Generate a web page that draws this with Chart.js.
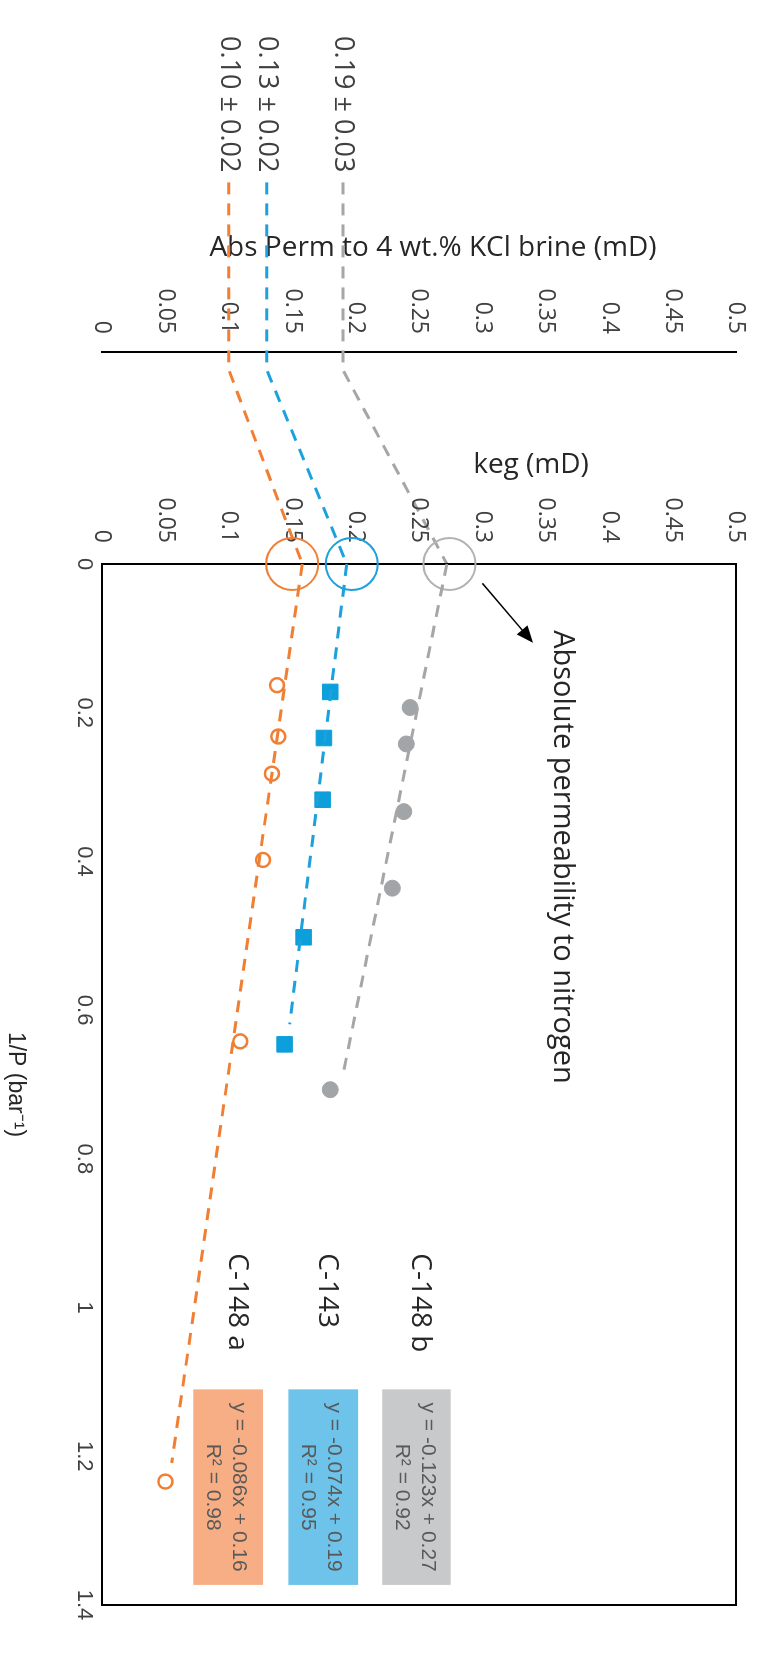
<!DOCTYPE html>
<html>
<head>
<meta charset="utf-8">
<title>keg vs 1/P</title>
<script src="https://cdn.jsdelivr.net/npm/chart.js@4.4.1/dist/chart.umd.min.js"></script>
<style>
  html, body { margin: 0; padding: 0; background: #fff; overflow: hidden; }
  /* the figure is laid out landscape and turned a quarter clockwise */
  #page {
    position: absolute; left: 0; top: 0;
    width: 1656px; height: 772px;
    transform-origin: 0 0;
    transform: translate(772px, 0) rotate(90deg);
  }
  #page canvas { position: absolute; left: 0; top: 0; }
</style>
</head>
<body>
<div id="page">
  <canvas id="brineChart" width="1656" height="772"></canvas>
  <canvas id="kegChart" width="1656" height="772"></canvas>
</div>
<script>
/* globals Chart:false */
(() => {
  'use strict'

  // samples, order: orange / blue / gray
  const samples = ['C-148 a', 'C-143', 'C-148 b']
  const colors = ['#f07f34', '#1ca1dc', '#a6a6a6']
  const markerColors = ['#f07f34', '#0d9fdc', '#a2a5a8']
  const boxColors = ['#f8ae85', '#6dc3e9', '#c8c9cb']

  // keg (mD) against 1/P (bar-1)
  const invP148a = [0.163, 0.232, 0.282, 0.398, 0.642, 1.234]
  const keg148a = [0.138, 0.139, 0.134, 0.127, 0.109, 0.050]
  const invP143 = [0.172, 0.234, 0.317, 0.502, 0.646]
  const keg143 = [0.180, 0.175, 0.174, 0.159, 0.144]
  const invP148b = [0.193, 0.242, 0.333, 0.436, 0.707]
  const keg148b = [0.243, 0.240, 0.238, 0.229, 0.180]

  // fitted lines as drawn (start, end)
  const fitInvP = [[0, 1.209], [0, 0.619], [0, 0.687]]
  const fitKeg = [[0.158, 0.055], [0.193, 0.148], [0.272, 0.190]]
  const equations = ['y = -0.086x + 0.16', 'y = -0.074x + 0.19', 'y = -0.123x + 0.27']
  const rSquared = ['R² = 0.98', 'R² = 0.95', 'R² = 0.92']

  // absolute permeability to nitrogen, circled at 1/P = 0
  const absN2 = [0.150, 0.197, 0.274]

  // absolute permeability to 4 wt.% KCl brine
  const absBrine = [0.10, 0.13, 0.19]
  const absBrineText = ['0.10 ± 0.02', '0.13 ± 0.02', '0.19 ± 0.03']

  // tick labels
  const kegTicks = ['0', '0.05', '0.1', '0.15', '0.2', '0.25', '0.3', '0.35', '0.4', '0.45', '0.5']
  const invPTicks = ['0', '0.2', '0.4', '0.6', '0.8', '1', '1.2', '1.4']

  // where the notes sit (axis units)
  const linkX = [-0.8, 0.085, 1]
  const nameX = 0.927
  const nameKeg = [0.1065, 0.1774, 0.2508]
  const boxX = [1.11, 1.373]
  const boxKeg = [[0.127, 0.072], [0.202, 0.147], [0.275, 0.221]]
  const arrow = { from: [0.026, 0.300], to: [0.106, 0.340] }
  const noteAt = [0.089, 0.363]

  const sans = "'Open Sans', sans-serif"
  const arial = "'Liberation Sans', Arial, sans-serif"
  const ink = '#262626'
  const tickInk = '#404040'

  Chart.defaults.font.family = sans
  Chart.defaults.color = tickInk
  Chart.defaults.animation = false

  const toPoints = (xs, ys) => xs.map((x, i) => ({ x, y: ys[i] }))
  const kegTickBuild = s => { s.ticks = kegTicks.map(v => ({ value: +v })) }

  // ---- left panel: brine permeability axis and connectors ----
  const brineLabels = {
    id: 'brineLabels',
    afterDatasetsDraw(chart) {
      const { ctx, scales: { x, y } } = chart
      ctx.save()
      ctx.font = '27px ' + sans
      ctx.fillStyle = tickInk
      ctx.textAlign = 'right'
      ctx.textBaseline = 'middle'
      absBrineText.forEach((t, i) => {
        ctx.fillText(t, x.getPixelForValue(linkX[0]) - 10, y.getPixelForValue(absBrine[i]))
      })
      ctx.restore()
    }
  }

  new Chart(document.getElementById('brineChart'), {
    type: 'scatter',
    data: {
      datasets: absBrine.map((v, i) => ({
        data: [
          { x: linkX[0], y: v },
          { x: linkX[1], y: v },
          { x: linkX[2], y: fitKeg[i][0] }
        ],
        showLine: true,
        borderColor: colors[i],
        borderWidth: 3,
        borderDash: [12, 9],
        pointRadius: 0,
        clip: false
      }))
    },
    options: {
      responsive: false,
      layout: { padding: { left: 231, top: 36, right: 1092, bottom: 102 } },
      plugins: { legend: { display: false }, tooltip: { enabled: false } },
      scales: {
        x: { type: 'linear', display: false, min: 0, max: 1 },
        y: {
          type: 'linear',
          min: 0,
          max: 0.5,
          afterBuildTicks: kegTickBuild,
          afterFit: s => { s.width = 121 },
          grid: { display: false, drawTicks: false },
          border: { display: true, color: '#000', width: 2 },
          ticks: { padding: 18, font: { size: 23 }, callback: (v, i) => kegTicks[i] },
          title: {
            display: true,
            text: '\u2003Abs Perm to 4 wt.% KCl brine (mD)',
            color: ink,
            font: { size: 28 },
            padding: 0
          }
        }
      }
    },
    plugins: [brineLabels]
  })

  // ---- main panel: keg against 1/P ----
  const notes = {
    id: 'notes',
    beforeDatasetsDraw(chart) {
      const { ctx, chartArea: a } = chart
      ctx.save()
      ctx.strokeStyle = '#000'
      ctx.lineWidth = 2
      ctx.strokeRect(a.left, a.top, a.right - a.left, a.bottom - a.top)
      ctx.restore()
    },
    afterDatasetsDraw(chart) {
      const { ctx, scales: { x, y } } = chart
      ctx.save()

      // sample names
      ctx.font = '28px ' + sans
      ctx.fillStyle = ink
      ctx.textAlign = 'left'
      ctx.textBaseline = 'middle'
      samples.forEach((s, i) => {
        ctx.fillText(s, x.getPixelForValue(nameX), y.getPixelForValue(nameKeg[i]))
      })

      // fit equations
      const x0 = x.getPixelForValue(boxX[0])
      const x1 = x.getPixelForValue(boxX[1])
      ctx.font = '21px ' + arial
      ctx.textAlign = 'center'
      boxKeg.forEach(([top, bottom], i) => {
        const y0 = y.getPixelForValue(top)
        const y1 = y.getPixelForValue(bottom)
        ctx.fillStyle = boxColors[i]
        ctx.fillRect(x0, y0, x1 - x0, y1 - y0)
        ctx.fillStyle = '#595959'
        const cy = (y0 + y1) / 2
        ctx.fillText(equations[i], (x0 + x1) / 2, cy - 11)
        ctx.fillText(rSquared[i], (x0 + x1) / 2, cy + 15)
      })

      // arrow to the nitrogen circles
      const ax = x.getPixelForValue(arrow.from[0])
      const ay = y.getPixelForValue(arrow.from[1])
      const bx = x.getPixelForValue(arrow.to[0])
      const by = y.getPixelForValue(arrow.to[1])
      const ang = Math.atan2(by - ay, bx - ax)
      const c = Math.cos(ang)
      const s = Math.sin(ang)
      ctx.strokeStyle = '#000'
      ctx.fillStyle = '#000'
      ctx.lineWidth = 1.5
      ctx.beginPath()
      ctx.moveTo(ax, ay)
      ctx.lineTo(bx - 14 * c, by - 14 * s)
      ctx.stroke()
      ctx.beginPath()
      ctx.moveTo(bx, by)
      ctx.lineTo(bx - 17 * c + 7 * s, by - 17 * s - 7 * c)
      ctx.lineTo(bx - 17 * c - 7 * s, by - 17 * s + 7 * c)
      ctx.closePath()
      ctx.fill()

      ctx.font = '29px ' + sans
      ctx.fillStyle = ink
      ctx.textAlign = 'left'
      ctx.fillText('Absolute permeability to nitrogen', x.getPixelForValue(noteAt[0]), y.getPixelForValue(noteAt[1]))
      ctx.restore()
    }
  }

  const fitSets = fitInvP.map((xs, i) => ({
    data: toPoints(xs, fitKeg[i]),
    showLine: true,
    borderColor: colors[i],
    borderWidth: 3,
    borderDash: [12, 9],
    pointRadius: 0,
    clip: false
  }))

  new Chart(document.getElementById('kegChart'), {
    type: 'scatter',
    data: {
      datasets: [
        ...fitSets,
        {
          label: samples[0],
          data: toPoints(invP148a, keg148a),
          pointStyle: 'circle',
          pointRadius: 7,
          borderWidth: 2.5,
          borderColor: markerColors[0],
          backgroundColor: 'rgba(0,0,0,0)'
        },
        {
          label: samples[1],
          data: toPoints(invP143, keg143),
          pointStyle: 'rect',
          pointRadius: 11,
          borderWidth: 1,
          borderColor: markerColors[1],
          backgroundColor: markerColors[1]
        },
        {
          label: samples[2],
          data: toPoints(invP148b, keg148b),
          pointStyle: 'circle',
          pointRadius: 8,
          borderWidth: 1,
          borderColor: markerColors[2],
          backgroundColor: markerColors[2]
        },
        {
          data: absN2.map(v => ({ x: 0, y: v })),
          pointStyle: 'circle',
          pointRadius: 26,
          borderWidth: 2,
          borderColor: ['#f07f34', '#1ca1dc', '#b3b3b3'],
          backgroundColor: 'rgba(0,0,0,0)',
          clip: false
        }
      ]
    },
    options: {
      responsive: false,
      layout: { padding: { left: 448, top: 36, right: 51, bottom: 0 } },
      plugins: { legend: { display: false }, tooltip: { enabled: false } },
      scales: {
        x: {
          type: 'linear',
          position: 'bottom',
          min: 0,
          max: 1.4,
          afterBuildTicks: s => { s.ticks = invPTicks.map(v => ({ value: +v })) },
          afterFit: s => { s.height = 102 },
          grid: { display: false, drawTicks: false },
          border: { display: false },
          ticks: {
            padding: 5,
            maxRotation: 0,
            autoSkip: false,
            font: { family: arial, size: 22 },
            callback: (v, i) => invPTicks[i]
          },
          title: {
            display: true,
            text: '1/P (bar\u207B\u00B9)',
            color: ink,
            font: { family: arial, size: 23 },
            padding: { top: 0, bottom: 2 }
          }
        },
        y: {
          type: 'linear',
          position: 'left',
          min: 0,
          max: 0.5,
          afterBuildTicks: kegTickBuild,
          afterFit: s => { s.width = 116 },
          grid: { display: false, drawTicks: false },
          border: { display: false },
          ticks: { padding: 21, font: { size: 23 }, callback: (v, i) => kegTicks[i] },
          title: {
            display: true,
            text: '\u2003'.repeat(8) + 'keg (mD)',
            color: ink,
            font: { size: 28 },
            padding: 0
          }
        }
      }
    },
    plugins: [notes]
  })
})()
</script>
</body>
</html>
